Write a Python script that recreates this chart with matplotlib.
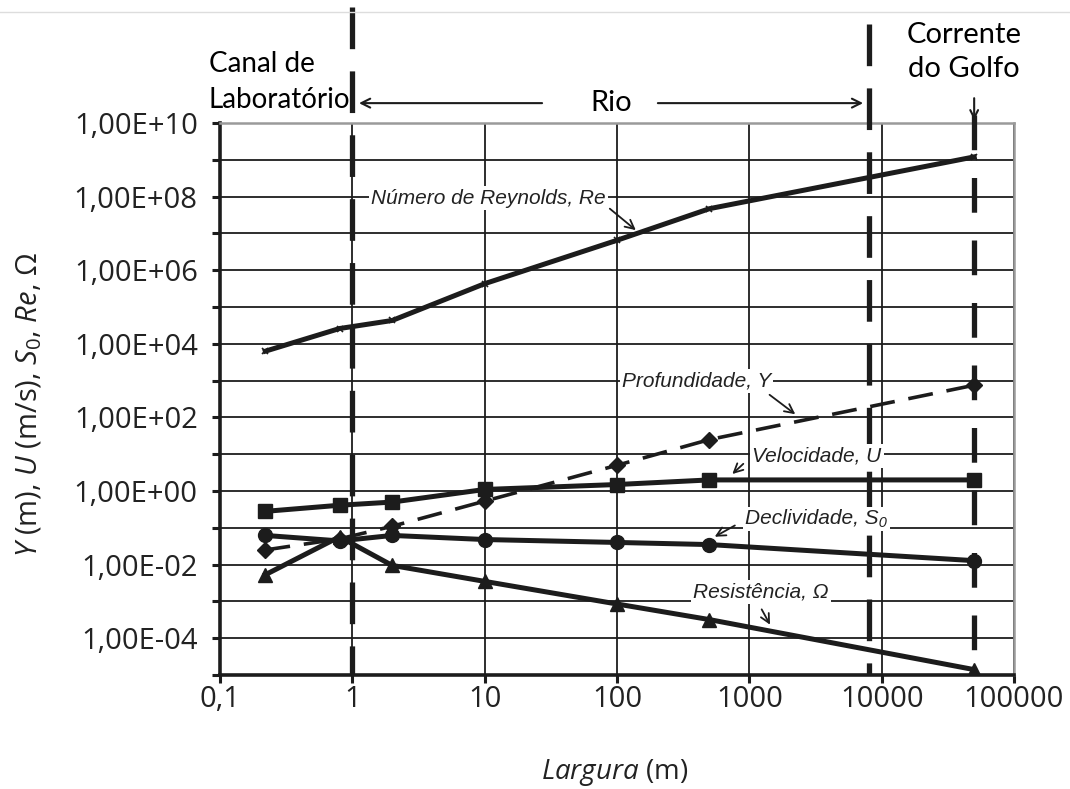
import numpy as np
import matplotlib
matplotlib.use("Agg")
import matplotlib.pyplot as plt
from matplotlib.ticker import FixedLocator, FuncFormatter, NullLocator
from matplotlib.lines import Line2D

plt.rcParams["font.family"] = ["Open Sans", "DejaVu Sans"]
plt.rcParams["mathtext.fontset"] = "custom"
plt.rcParams["mathtext.rm"] = "Open Sans"
plt.rcParams["mathtext.it"] = "Open Sans:italic"
plt.rcParams["lines.scale_dashes"] = False

# largura do canal (m)
largura = [0.22, 0.8, 2, 10, 100, 500, 50000]
reynolds = [6.3e3, 2.6e4, 4.3e4, 4.3e5, 6.5e6, 4.7e7, 1.2e9]
profundidade = [0.025, 0.05, 0.11, 0.53, 5.0, 25, 750]
velocidade = [0.28, 0.41, 0.5, 1.1, 1.5, 2.0, 2.0]
declividade = [0.062, 0.044, 0.062, 0.048, 0.040, 0.035, 0.0128]
resistencia = [0.0053, 0.057, 0.0095, 0.0035, 8.5e-4, 3.2e-4, 1.4e-5]

limites = [1, 8000, 50000]   # canal | rio | corrente do golfo

INK = "#1c1c1c"

fig = plt.figure(figsize=(10.70, 7.89), dpi=100)
ax = fig.add_axes([220 / 1070, 114 / 789, 794 / 1070, 552 / 789])
ax.set_xscale("log")
ax.set_yscale("log")
ax.set_xlim(0.1, 1e5)
ax.set_ylim(1e-5, 1e10)

lw = 3.6
ax.plot(largura, reynolds, color=INK, lw=lw, marker="x", ms=5, mew=1.2, zorder=4)
ax.plot(largura, profundidade, color=INK, lw=2.6, dashes=(18, 10), marker="D",
        ms=8, zorder=4)
ax.plot(largura, velocidade, color=INK, lw=lw, marker="s", ms=9.5, zorder=4)
ax.plot(largura, declividade, color=INK, lw=lw, marker="o", ms=10, zorder=4)
ax.plot(largura, resistencia, color=INK, lw=lw, marker="^", ms=10, zorder=4)

# ticks / grid
ax.xaxis.set_major_locator(FixedLocator([10.0 ** e for e in range(-1, 6)]))
ax.xaxis.set_minor_locator(NullLocator())
ax.xaxis.set_major_formatter(FuncFormatter(
    lambda v, p: "0,1" if v < 0.5 else f"{int(round(v))}"))
ax.yaxis.set_major_locator(FixedLocator([10.0 ** e for e in range(-5, 11)]))
ax.yaxis.set_minor_locator(NullLocator())


def fmt_y(v, p):
    e = int(round(np.log10(v)))
    if e % 2 or e < -4:
        return ""
    return f"1,00E{e:+03d}"


ax.yaxis.set_major_formatter(FuncFormatter(fmt_y))
ax.tick_params(axis="both", direction="out", length=6, width=2.2, color=INK,
               labelsize=21, labelcolor="#222222")
ax.tick_params(axis="x", pad=1)
ax.tick_params(axis="y", pad=10)
ax.grid(True, color=INK, lw=1.3, zorder=0)
ax.set_axisbelow(True)
for s in ["top", "right"]:
    ax.spines[s].set_color("#9a9a9a")
    ax.spines[s].set_linewidth(1.8)
for s in ["left", "bottom"]:
    ax.spines[s].set_color(INK)
    ax.spines[s].set_linewidth(2.6)

ax.set_ylabel(r"$\mathit{Y}$ (m), $\mathit{U}$ (m/s), $\mathit{S}_0$, $\mathit{Re}$, Ω",
              fontsize=21, color="#222222")
ax.yaxis.set_label_coords(-0.222, 0.49)
ax.set_xlabel(r"$\mathit{Largura}$ (m)", fontsize=20, color="#222222")
ax.xaxis.set_label_coords(0.497, -0.148)

# divisões verticais tracejadas
trans = ax.get_xaxis_transform()
tops = [1.21, 1.18, 1.015]
dash_sets = [(30, 16), (30, 16), (25, 20)]
for xv, top, dsh in zip(limites, tops, dash_sets):
    ax.add_line(Line2D([xv, xv], [top, 0], transform=trans, color=INK, lw=3.8,
                       dashes=dsh, clip_on=False, zorder=5))

# textos de cima
ax.text(-0.014, 1.074, "Canal de\nLaboratório", transform=ax.transAxes,
        ha="left", va="center", fontsize=20, linespacing=1.5, color="black",
        family=["Lato", "DejaVu Sans"])
ax.text(41900, 1.129, "Corrente\ndo Golfo", transform=trans, ha="center",
        va="center", fontsize=21, linespacing=1.4, color="black",
        family=["Lato", "DejaVu Sans"])
rio_arrow = dict(arrowstyle="->", color=INK, lw=1.5, mutation_scale=16)
ax.annotate("", xy=(1.07, 1.036), xytext=(28.5, 1.036), xycoords=trans,
            textcoords=trans, arrowprops=rio_arrow, annotation_clip=False)
ax.annotate("", xy=(7600, 1.036), xytext=(194, 1.036), xycoords=trans,
            textcoords=trans, arrowprops=rio_arrow, annotation_clip=False)
ax.text(90, 1.036, "Rio", transform=trans, ha="center", va="center",
        fontsize=21, color="black", family=["Lato", "DejaVu Sans"])
ax.annotate("", xy=(50000, 1.0), xytext=(50000, 1.05), xycoords=trans,
            textcoords=trans,
            arrowprops=dict(arrowstyle="->", color=INK, lw=1.5,
                            mutation_scale=14), annotation_clip=False)

# rótulos das séries
box = dict(facecolor="white", edgecolor="none", pad=1.5)
lbl = dict(fontsize=15, style="italic", family=["Liberation Sans", "DejaVu Sans"],
           va="center", color="#222222", zorder=6, bbox=box)
ax.text(82, 10 ** 7.96, "Número de Reynolds, Re", ha="right", **lbl)
ax.text(109, 10 ** 2.99, "Profundidade, Y", ha="left", **lbl)
ax.text(1054, 10 ** 0.95, "Velocidade, U", ha="left", **lbl)
ax.text(933, 10 ** -0.76, "Declividade, S₀", ha="left", **lbl)
ax.text(377, 10 ** -2.745, "Resistência, Ω", ha="left", **lbl)

arrows = [
    ((85, 10 ** 7.72), (144, 10 ** 7.04)),
    ((1368, 10 ** 2.66), (2312, 10 ** 2.04)),
    ((933, 10 ** 0.79), (718, 10 ** 0.41)),
    ((811, 10 ** -0.90), (525, 10 ** -1.28)),
    ((1211, 10 ** -3.15), (1468, 10 ** -3.70)),
]
for start, end in arrows:
    ax.annotate("", xy=end, xytext=start,
                arrowprops=dict(arrowstyle="->", color=INK, lw=1.3,
                                mutation_scale=16), zorder=6)

fig.add_artist(Line2D([0, 1], [1 - 12 / 789] * 2, transform=fig.transFigure,
                      color="#dddddd", lw=1))

fig.savefig("out.png", dpi=100)
